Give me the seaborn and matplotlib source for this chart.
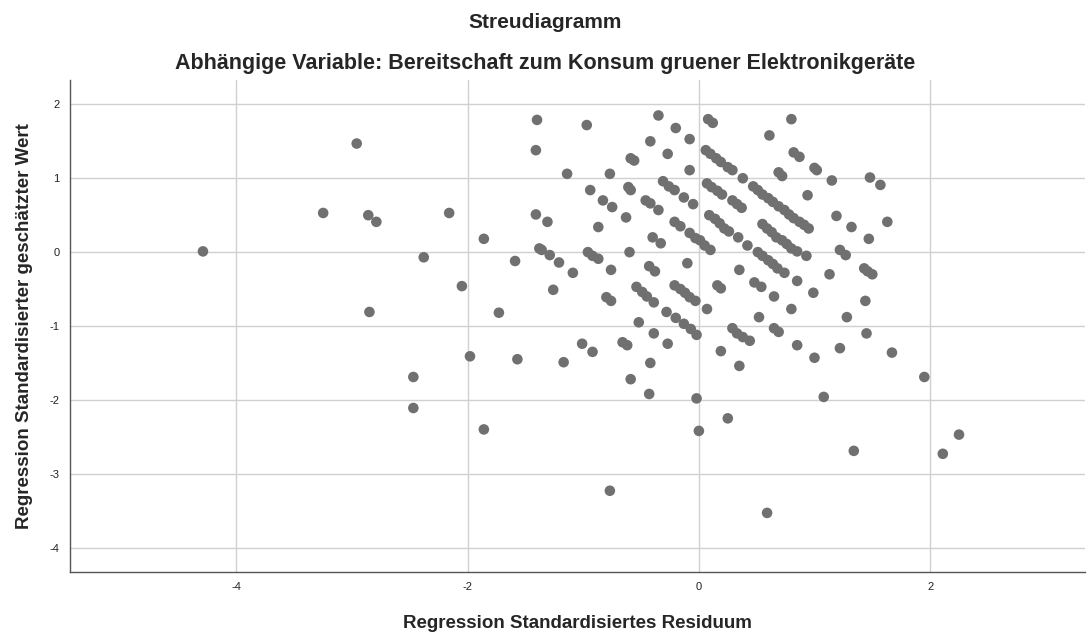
import matplotlib
matplotlib.use("Agg")
import matplotlib.pyplot as plt
import seaborn as sns
import pandas as pd

residual = [
    -4.29, -3.25, -2.96, -2.86, -2.79, -2.85, -2.16, -2.38, -2.05, -2.47,
    -2.47, -1.98, -1.86, -1.86, -1.73, -1.59, -1.57, -1.40, -1.41, -1.41,
    -1.31, -1.38, -1.36, -1.29, -1.26, -1.21, -1.17, -1.14, -1.09, -1.01,
    -0.97, -0.96, -0.92, -0.87, -0.92, -0.94, -0.87, -0.83, -0.75, -0.77,
    -0.76, -0.80, -0.76, -0.77, -0.63, -0.61, -0.59, -0.59, -0.56, -0.60,
    -0.66, -0.62, -0.59, -0.54, -0.49, -0.45, -0.39, -0.52, -0.46, -0.42,
    -0.35, -0.42, -0.35, -0.40, -0.33, -0.43, -0.38, -0.39, -0.42, -0.43,
    -0.31, -0.26, -0.21, -0.13, -0.05, -0.27, -0.20, -0.08, -0.08, -0.21,
    -0.16, -0.08, -0.03, -0.10, -0.21, -0.16, -0.12, -0.08, -0.03, -0.28,
    -0.20, -0.13, -0.07, -0.02, -0.27, -0.02, 0.00,
    0.08, 0.12, 0.06, 0.10, 0.15, 0.19, 0.25, 0.29, 0.38, 0.07,
    0.11, 0.16, 0.20, 0.29, 0.33, 0.37, 0.09, 0.14, 0.18, 0.22,
    0.26, 0.34, 0.42, 0.01, 0.05, 0.10, 0.61, 0.80, 0.82, 0.87,
    1.00, 1.02, 0.69, 0.72, 1.15, 0.47, 0.51, 0.55, 0.60, 0.64,
    0.69, 0.74, 0.78, 0.82, 0.87, 0.91, 0.95, 0.94, 1.19, 0.55,
    0.59, 0.63, 0.67, 0.72, 0.76, 0.80, 0.85, 0.93, 0.51, 0.55,
    0.60, 0.64, 0.68, 0.74, 1.22, 1.27, 0.35, 0.16, 0.19, 0.48,
    0.54, 0.65, 0.85, 1.13, 0.99, 0.07, 0.52, 0.80, 0.29, 0.33,
    0.38, 0.44, 0.65, 0.69, 0.19, 0.35, 0.85, 1.00, 1.22, 1.08,
    0.25, 0.59, 1.48, 1.57, 1.32, 1.63, 1.47, 1.43, 1.46, 1.50,
    1.44, 1.28, 1.45, 1.67, 1.95, 2.25, 2.11, 1.34,
]

predicted = [
    0.01, 0.53, 1.47, 0.50, 0.41, -0.81, 0.53, -0.07, -0.46, -1.69,
    -2.11, -1.41, 0.18, -2.40, -0.82, -0.12, -1.45, 1.79, 1.38, 0.51,
    0.41, 0.05, 0.03, -0.04, -0.51, -0.14, -1.49, 1.06, -0.28, -1.24,
    1.72, 0.00, -0.05, -0.09, -1.35, 0.84, 0.34, 0.70, 0.61, 1.06,
    -0.24, -0.61, -0.66, -3.23, 0.47, 0.88, 0.84, 1.27, 1.24, 0.00,
    -1.22, -1.26, -1.72, -0.47, -0.54, -0.60, -0.68, -0.95, 0.70, 0.66,
    0.57, 1.50, 1.85, 0.20, 0.12, -0.19, -0.26, -1.10, -1.50, -1.92,
    0.96, 0.89, 0.84, 0.74, 0.65, 1.33, 1.68, 1.53, 1.11, 0.41,
    0.35, 0.26, 0.19, -0.15, -0.45, -0.50, -0.55, -0.61, -0.66, -0.81,
    -0.89, -0.97, -1.04, -1.12, -1.24, -1.98, -2.42,
    1.80, 1.75, 1.38, 1.33, 1.27, 1.22, 1.15, 1.11, 1.00, 0.93,
    0.88, 0.83, 0.78, 0.70, 0.65, 0.60, 0.50, 0.45, 0.39, 0.32,
    0.28, 0.20, 0.09, 0.16, 0.09, 0.03, 1.58, 1.80, 1.35, 1.29,
    1.14, 1.11, 1.08, 1.03, 0.97, 0.89, 0.84, 0.78, 0.73, 0.68,
    0.62, 0.57, 0.51, 0.46, 0.41, 0.37, 0.32, 0.77, 0.49, 0.38,
    0.32, 0.27, 0.20, 0.16, 0.11, 0.05, 0.01, -0.05, 0.00, -0.05,
    -0.11, -0.16, -0.22, -0.28, 0.03, -0.04, -0.24, -0.45, -0.49, -0.41,
    -0.47, -0.60, -0.39, -0.30, -0.55, -0.77, -0.88, -0.77, -1.03, -1.10,
    -1.15, -1.20, -1.03, -1.08, -1.34, -1.54, -1.26, -1.43, -1.30, -1.96,
    -2.25, -3.53, 1.01, 0.91, 0.34, 0.41, 0.18, -0.22, -0.26, -0.30,
    -0.66, -0.88, -1.10, -1.36, -1.69, -2.47, -2.73, -2.69,
]

x_ticks = [-4, -2, 0, 2]
y_ticks = [-4, -3, -2, -1, 0, 1, 2]

title = "Streudiagramm"
subtitle = "Abhängige Variable: Bereitschaft zum Konsum gruener Elektronikgeräte"
x_label = "Regression Standardisiertes Residuum"
y_label = "Regression Standardisierter geschätzter Wert"

df = pd.DataFrame({"res": residual, "pred": predicted})

sns.set_style("white")
plt.rcParams["font.family"] = ["Liberation Sans", "DejaVu Sans"]
plt.rcParams["axes.unicode_minus"] = False

fig = plt.figure(figsize=(10.91, 6.37), dpi=100)
ax = fig.add_axes([70 / 1091, 65 / 637, 1015 / 1091, 492 / 637])

ax.set_xlim(-5.44, 3.34)
ax.set_ylim(-4.33, 2.33)
ax.set_xticks(x_ticks)
ax.set_yticks(y_ticks)
ax.grid(True, color="#d0d0d0", linewidth=1.0)
ax.set_axisbelow(True)

sns.scatterplot(data=df, x="res", y="pred", ax=ax, color="#707070",
                s=58, edgecolor="none", linewidth=0, zorder=3)

for side in ["top", "right"]:
    ax.spines[side].set_visible(False)
for side in ["left", "bottom"]:
    ax.spines[side].set_color("#555555")
    ax.spines[side].set_linewidth(1.0)

ax.tick_params(axis="both", labelsize=8, length=4, color="#555555",
               labelcolor="#222222", direction="out")

ax.set_xlabel(x_label, fontsize=13.5, fontweight="bold", labelpad=16)
ax.set_ylabel(y_label, fontsize=13.5, fontweight="bold", labelpad=12)

fig.text(0.5, 1 - 22 / 637, title, ha="center", va="center",
         fontsize=15, fontweight="bold")
fig.text(0.5, 1 - 63 / 637, subtitle, ha="center", va="center",
         fontsize=15.5, fontweight="bold")

fig.savefig("out.png", dpi=100)
